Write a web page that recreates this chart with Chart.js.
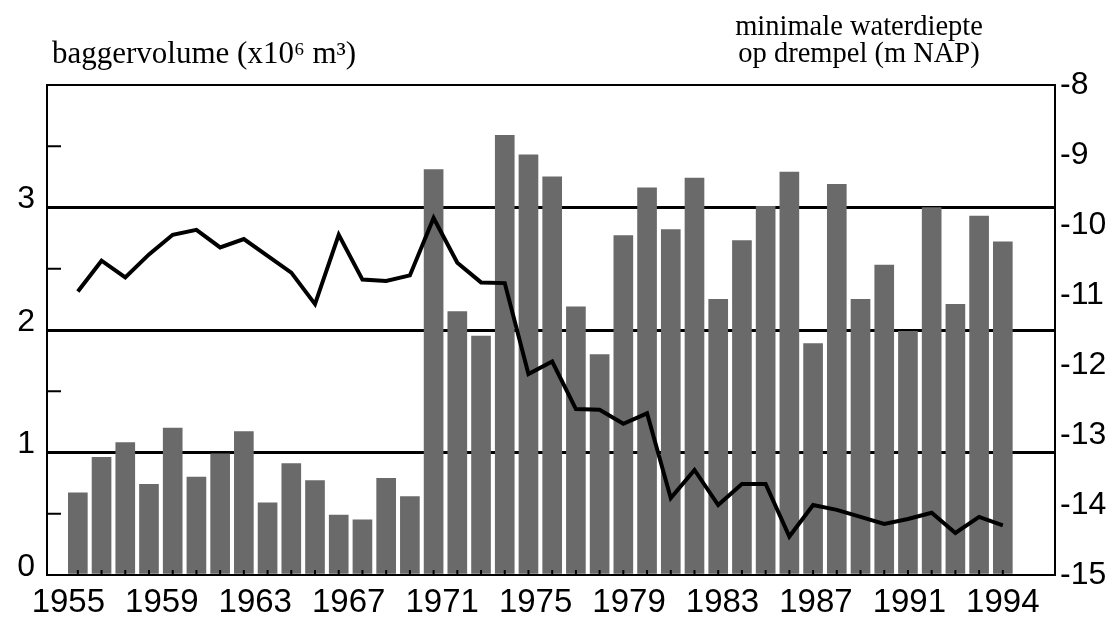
<!DOCTYPE html>
<html>
<head>
<meta charset="utf-8">
<script src="https://cdn.jsdelivr.net/npm/chart.js@4/dist/chart.umd.min.js"></script>
<style>
  html, body { margin: 0; padding: 0; background: #fff; }
  #wrap { width: 1116px; height: 622px; }
</style>
</head>
<body>
<div id="wrap"><canvas id="chart"></canvas></div>
<script>
// years 1955 - 1994
const years = [1955, 1956, 1957, 1958, 1959, 1960, 1961, 1962, 1963, 1964,
               1965, 1966, 1967, 1968, 1969, 1970, 1971, 1972, 1973, 1974,
               1975, 1976, 1977, 1978, 1979, 1980, 1981, 1982, 1983, 1984,
               1985, 1986, 1987, 1988, 1989, 1990, 1991, 1992, 1993, 1994];

// baggervolume (x10^6 m3)
const volume = [0.67, 0.96, 1.08, 0.74, 1.20, 0.80, 0.99, 1.17, 0.59, 0.91,
                0.77, 0.49, 0.45, 0.79, 0.64, 3.31, 2.15, 1.95, 3.59, 3.43,
                3.25, 2.19, 1.80, 2.77, 3.16, 2.82, 3.24, 2.25, 2.73, 3.01,
                3.29, 1.89, 3.19, 2.25, 2.53, 1.99, 3.00, 2.21, 2.93, 2.72];

// minimale waterdiepte op drempel (m NAP)
const depth = [-10.95, -10.51, -10.75, -10.42, -10.14, -10.07, -10.32, -10.20, -10.44, -10.68,
               -11.13, -10.14, -10.78, -10.80, -10.72, -9.90, -10.54, -10.82, -10.83, -12.13,
               -11.95, -12.63, -12.64, -12.84, -12.69, -13.90, -13.50, -14.00, -13.70, -13.70,
               -14.45, -14.00, -14.07, -14.17, -14.27, -14.20, -14.11, -14.40, -14.17, -14.29];

// the original prints these year labels as an evenly spaced row
const xTicks = [1955, 1959, 1963, 1967, 1971, 1975, 1979, 1983, 1987, 1991, 1994];
const leftLabels = [0, 1, 2, 3];
const gridValues = [1, 2, 3];

// frame, titles and inward tick marks
const decor = {
    id: 'decor',
    afterDraw(chart) {
        const ctx = chart.ctx;
        const a = chart.chartArea;
        const sx = chart.scales.x, sy = chart.scales.y, sy1 = chart.scales.y1;
        ctx.save();
        ctx.strokeStyle = '#000';

        // inward ticks left (every 0.5)
        ctx.lineWidth = 2;
        for (let v = 0.5; v < 4; v += 1) {
            const p = sy.getPixelForValue(v);
            ctx.beginPath(); ctx.moveTo(a.left, p); ctx.lineTo(a.left + 14, p); ctx.stroke();
        }
        // inward ticks right (every metre)
        ctx.lineWidth = 1.2;
        for (let v = -14; v > -8; v--) {
            const p = sy1.getPixelForValue(v);
            ctx.beginPath(); ctx.moveTo(a.right, p); ctx.lineTo(a.right - 13, p); ctx.stroke();
        }
        // small ticks at bottom for each year
        ctx.lineWidth = 2;
        years.forEach(yr => {
            const p = sx.getPixelForValue(yr);
            ctx.beginPath(); ctx.moveTo(p, a.bottom); ctx.lineTo(p, a.bottom - 5); ctx.stroke();
        });

        // frame
        ctx.lineWidth = 2;
        ctx.strokeRect(a.left, a.top, a.right - a.left, a.bottom - a.top);

        // titles
        ctx.fillStyle = '#000';
        ctx.font = '31px "Liberation Serif"';
        ctx.textAlign = 'left';
        ctx.textBaseline = 'alphabetic';
        ctx.fillText('baggervolume (x10\u2076 m\u00b3)', 52, 63);
        ctx.font = '28.5px "Liberation Serif"';
        ctx.textAlign = 'center';
        ctx.fillText('minimale waterdiepte', 859, 35);
        ctx.fillText('op drempel (m NAP)', 859, 62);
        ctx.restore();
    }
};

const ctx = document.getElementById('chart').getContext('2d');
new Chart(ctx, {
    data: {
        datasets: [
            {
                type: 'line',
                label: 'waterdiepte',
                data: years.map((yr, i) => ({ x: yr, y: depth[i] })),
                yAxisID: 'y1',
                borderColor: '#000',
                borderWidth: 4,
                pointRadius: 0,
                tension: 0,
                order: 0
            },
            {
                type: 'bar',
                label: 'baggervolume',
                data: years.map((yr, i) => ({ x: yr, y: volume[i] })),
                yAxisID: 'y',
                backgroundColor: '#6a6a6a',
                barThickness: 19,
                order: 1
            }
        ]
    },
    options: {
        responsive: true,
        maintainAspectRatio: false,
        animation: false,
        layout: { padding: { top: 85, left: 0, right: 0, bottom: 0 } },
        plugins: {
            legend: { display: false },
            tooltip: { enabled: false }
        },
        scales: {
            x: {
                type: 'linear',
                offset: false,
                min: 1953.7,
                max: 1996.2,
                // labels spread evenly from just left of the first bar to the last bar
                afterBuildTicks: s => {
                    const first = xTicks[0] - 0.4, last = xTicks[xTicks.length - 1];
                    const step = (last - first) / (xTicks.length - 1);
                    s.ticks = xTicks.map((v, i) => ({ value: first + i * step }));
                },
                afterFit: s => { s.height = 47; },
                grid: { display: false, drawTicks: false, offset: false },
                border: { display: false },
                ticks: {
                    autoSkip: false,
                    maxRotation: 0,
                    padding: 8,
                    color: '#000',
                    font: { family: 'Liberation Sans', size: 33 },
                    callback: (v, i) => String(xTicks[i])
                }
            },
            y: {
                position: 'left',
                min: 0,
                max: 4,
                afterBuildTicks: s => { s.ticks = [0, 1, 2, 3, 4].map(v => ({ value: v })); },
                afterFit: s => { s.width = 47; },
                grid: {
                    drawTicks: false,
                    lineWidth: 3,
                    color: c => gridValues.includes(c.tick.value) ? '#000' : 'rgba(0,0,0,0)'
                },
                border: { display: false },
                ticks: {
                    padding: 12,
                    labelOffset: -8,
                    color: '#000',
                    font: { family: 'Liberation Sans', size: 32 },
                    callback: v => leftLabels.includes(v) ? String(v) : ''
                }
            },
            y1: {
                position: 'right',
                min: -15,
                max: -8,
                afterBuildTicks: s => { s.ticks = [-15, -14, -13, -12, -11, -10, -9, -8].map(v => ({ value: v })); },
                afterFit: s => { s.width = 61; },
                grid: { display: false, drawTicks: false },
                border: { display: false },
                ticks: {
                    padding: 5,
                    color: '#000',
                    font: { family: 'Liberation Sans', size: 32 },
                    callback: v => String(v)
                }
            }
        }
    },
    plugins: [decor]
});
</script>
</body>
</html>
